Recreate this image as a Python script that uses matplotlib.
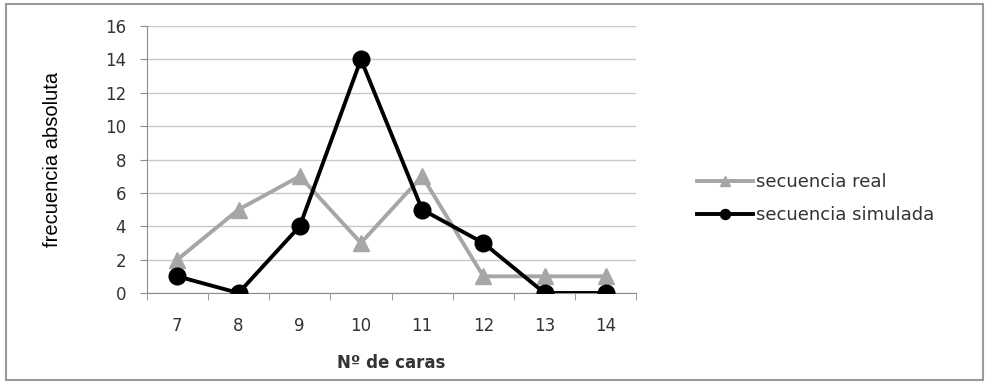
import matplotlib
matplotlib.use("Agg")
import matplotlib.pyplot as plt
from matplotlib.patches import Rectangle
import numpy as np

caras = [7, 8, 9, 10, 11, 12, 13, 14]
secuencia_real = [2, 5, 7, 3, 7, 1, 1, 1]
secuencia_simulada = [1, 0, 4, 14, 5, 3, 0, 0]
y_ticks = [0, 2, 4, 6, 8, 10, 12, 14, 16]

fig = plt.figure(figsize=(9.85, 3.83), dpi=100)
fig.patches.append(Rectangle((0.006, 0.008), 0.992, 0.982, transform=fig.transFigure,
                             fill=False, edgecolor="#9a9a9a", linewidth=1.5))
ax = fig.add_axes([0.149, 0.235, 0.497, 0.697])

x = np.arange(len(caras))
ax.plot(x, secuencia_real, color="#a6a6a6", linewidth=2.8, marker="^", markersize=11,
        markeredgecolor="#a6a6a6", markerfacecolor="#a6a6a6", label="secuencia real", zorder=3)
ax.plot(x, secuencia_simulada, color="black", linewidth=2.8, marker="o", markersize=12,
        label="secuencia simulada", zorder=4)

ax.set_xlim(-0.5, len(caras) - 0.5)
ax.set_ylim(0, 16)
ax.set_yticks(y_ticks)
ax.set_xticks(x)
ax.set_xticklabels([str(c) for c in caras])
ax.set_xticks(np.arange(-0.5, len(caras), 1), minor=True)
ax.tick_params(axis="x", which="major", length=0, pad=17, labelsize=12, colors="#333333")
ax.tick_params(axis="x", which="minor", length=5, color="#8c8c8c")
ax.tick_params(axis="y", length=5, color="#8c8c8c", pad=10, labelsize=12, colors="#333333")
for lbl in ax.get_xticklabels() + ax.get_yticklabels():
    lbl.set_fontfamily("DejaVu Sans")
ax.grid(axis="y", color="#c8c8c8", linewidth=1)
ax.set_axisbelow(True)
for side in ["top", "right"]:
    ax.spines[side].set_visible(False)
for side in ["left", "bottom"]:
    ax.spines[side].set_color("#8c8c8c")

ax.set_xlabel("Nº de caras", fontsize=12, fontweight="bold", family="DejaVu Sans",
              color="#333333")
ax.xaxis.set_label_coords(0.5, -0.23)
ax.set_ylabel("frecuencia absoluta", fontsize=14.5,
              family=["Liberation Sans Narrow", "Liberation Sans"], color="black")
ax.yaxis.set_label_coords(-0.174, 0.5)

leg = ax.legend(loc="center left", bbox_to_anchor=(1.09, 0.354), frameon=False,
                prop={"family": "DejaVu Sans", "size": 13}, handlelength=3.1,
                handletextpad=0.2, labelspacing=0.85, markerscale=0.6)
for t in leg.get_texts():
    t.set_color("#333333")

fig.savefig("out.png", dpi=100, facecolor="white")
